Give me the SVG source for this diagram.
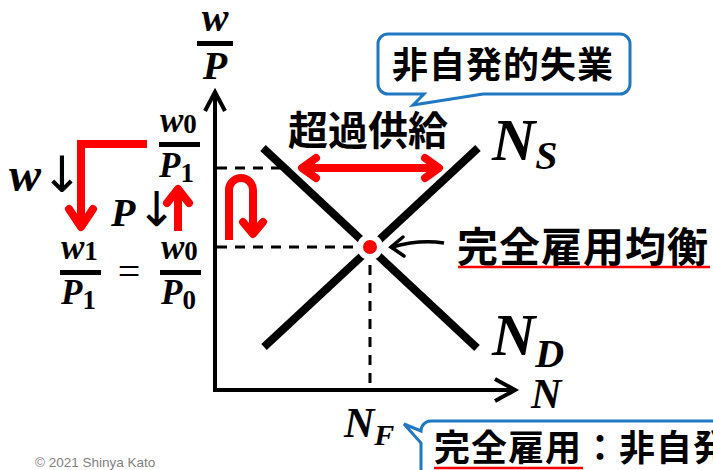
<svg xmlns="http://www.w3.org/2000/svg" width="713" height="470" viewBox="0 0 713 470">
<style>
.m{font-family:"Liberation Serif",serif;font-weight:bold;font-style:italic;fill:#000}
.sub{font-style:normal}
.arr{font-family:"DejaVu Sans",sans-serif;font-weight:normal;font-style:normal}
.jp{font-family:"Noto Sans CJK JP",sans-serif;font-weight:bold;fill:#000}
.ax{stroke:#000;stroke-width:4;fill:none}
.ln{stroke:#000;stroke-width:8;fill:none}
.dash{stroke:#000;stroke-width:3;stroke-dasharray:10 8;fill:none}
.red{stroke:#ff0000;stroke-width:8;fill:none;stroke-linecap:round;stroke-linejoin:round}
.redc{stroke:#ff0000;stroke-width:8;fill:none;stroke-linecap:butt}
.bub{fill:#fff;stroke:#1f78c1;stroke-width:3}
.bar{fill:#000}
</style>
<rect width="713" height="470" fill="#fff"/>

<g id="axes">
  <line class="ax" x1="215" y1="392" x2="215" y2="92"/>
  <polyline class="ax" points="205,111 215,92 225,111"/>
  <line class="ax" x1="213" y1="390" x2="514" y2="390"/>
  <polyline class="ax" points="495,379 515,390 495,401"/>
</g>

<g id="guides">
  <line class="dash" x1="217" y1="168" x2="282" y2="168"/>
  <line class="dash" x1="217" y1="247" x2="370" y2="247"/>
  <line class="dash" x1="370" y1="247" x2="370" y2="388"/>
</g>

<g id="curve-ND"><line class="ln" x1="263" y1="148" x2="477" y2="348"/></g>
<g id="curve-NS"><line class="ln" x1="264" y1="347" x2="478" y2="148"/></g>

<g id="equilibrium-dot"><circle cx="370" cy="247" r="10" fill="#ff0000" stroke="#fff" stroke-width="6"/></g>

<g id="label-wP">
  <text class="m" x="215" y="31" font-size="40" text-anchor="middle">w</text>
  <rect class="bar" x="197" y="41" width="36" height="5"/>
  <text class="m" x="215" y="79" font-size="40" text-anchor="middle">P</text>
</g>

<g id="label-w0P1">
  <text class="m" x="160" y="132" font-size="35">w<tspan class="sub" font-size="27" dy="1">0</tspan></text>
  <rect class="bar" x="159" y="142" width="41" height="5"/>
  <text class="m" x="159" y="177" font-size="35">P<tspan class="sub" font-size="27" dy="5">1</tspan></text>
</g>

<g id="label-w1P1">
  <text class="m" x="61" y="259" font-size="35">w<tspan class="sub" font-size="27" dy="1">1</tspan></text>
  <rect class="bar" x="60" y="270" width="41" height="5"/>
  <text class="m" x="61" y="304" font-size="35">P<tspan class="sub" font-size="27" dy="5">1</tspan></text>
</g>

<g id="label-eq">
  <text x="129" y="285" font-size="40" font-family="Liberation Serif,serif" text-anchor="middle" fill="#000">=</text>
</g>

<g id="label-w0P0">
  <text class="m" x="161" y="259" font-size="35">w<tspan class="sub" font-size="27" dy="1">0</tspan></text>
  <rect class="bar" x="160" y="270" width="41" height="5"/>
  <text class="m" x="161" y="304" font-size="35">P<tspan class="sub" font-size="27" dy="5">0</tspan></text>
</g>

<g id="label-wdown">
  <text class="m" x="9" y="191" font-size="48">w<tspan class="arr" font-size="50" dx="0" dy="1">↓</tspan></text>
</g>

<g id="label-Pdown">
  <text class="m" x="111" y="226" font-size="40">P<tspan class="arr" font-size="48" dx="1" dy="0">↓</tspan></text>
</g>

<g id="label-excess">
  <text class="jp" x="368" y="145" font-size="40" text-anchor="middle">超過供給</text>
</g>

<g id="label-NS">
  <text class="m" x="492" y="160" font-size="60">N<tspan font-size="40" dy="9">S</tspan></text>
</g>
<g id="label-ND">
  <text class="m" x="492" y="355" font-size="60">N<tspan font-size="40" dy="12">D</tspan></text>
</g>
<g id="label-N">
  <text class="m" x="531" y="408" font-size="42">N</text>
</g>
<g id="label-NF">
  <text class="m" x="344" y="437" font-size="42">N<tspan font-size="30" dy="8">F</tspan></text>
</g>

<g id="label-fullemp-eq">
  <text class="jp" x="457" y="262" font-size="41" letter-spacing="1">完全雇用均衡</text>
  <line x1="458" y1="267" x2="710" y2="267" stroke="#ff0000" stroke-width="2.5"/>
</g>

<g id="bubble-involuntary">
  <path class="bub" d="M388,34 H620 A10,10 0 0 1 630,44 V84 A10,10 0 0 1 620,94 H483 L413,105 L424,94 H388 A10,10 0 0 1 378,84 V44 A10,10 0 0 1 388,34 Z"/>
  <text class="jp" x="392" y="78" font-size="36" letter-spacing="1">非自発的失業</text>
</g>

<g id="bubble-fullemp">
  <path class="bub" d="M730,421 H431 A10,10 0 0 0 421,431 L404,424 L421,443 V490"/>
  <text class="jp" x="434" y="461" font-size="36" letter-spacing="1">完全雇用：非自発</text>
  <line x1="434" y1="468" x2="583" y2="468" stroke="#ff0000" stroke-width="2.5"/>
</g>

<g id="copyright">
  <text x="35" y="467" font-family="Liberation Sans,sans-serif" font-size="13.5" fill="#808080">© 2021 Shinya Kato</text>
</g>

<g id="connectors">
  <path class="redc" d="M147,144 H81 V222"/>
  <polyline class="red" points="69,209 81,227 93,209"/>
  <line class="redc" x1="178" y1="231" x2="178" y2="192"/>
  <polyline class="red" points="167,203 178,189 189,203"/>
  <path class="redc" d="M229,240 V190 A12,12 0 0 1 253,190 V232"/>
  <polyline class="red" points="243,222 253,234 263,222"/>
  <line class="redc" x1="302" y1="168" x2="439" y2="168"/>
  <polyline class="red" points="316,158 302,168 316,178"/>
  <polyline class="red" points="425,158 439,168 425,178"/>
  <path d="M444,243 Q420,239 392,247" stroke="#000" stroke-width="3.5" fill="none"/>
  <polyline points="403,237 391,247 404,256" stroke="#000" stroke-width="3.5" fill="none" stroke-linecap="round"/>
</g>
</svg>
